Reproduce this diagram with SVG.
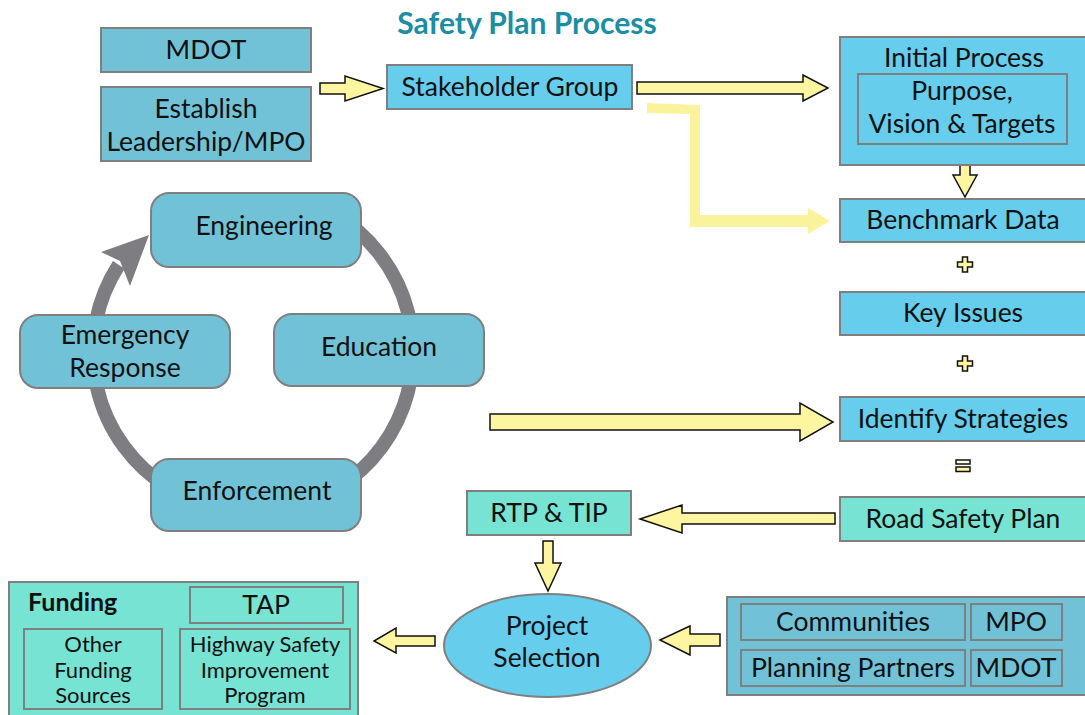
<svg xmlns="http://www.w3.org/2000/svg" width="1085" height="715" viewBox="0 0 1085 715">
  <style>
    text { font-family: Lato, "Open Sans", "Liberation Sans", sans-serif; fill: #111; text-anchor: middle; }
    .lbl { font-size: 26.5px; }
    .sm { font-size: 22px; }
    .title { font-size: 30px; font-weight: bold; fill: #1b8ea3; }
    .dark { fill: #72c2d7; stroke: #7f7f7f; stroke-width: 2; }
    .sky { fill: #66cdec; stroke: #7f7f7f; stroke-width: 2; }
    .mint { fill: #77e3d3; stroke: #7f7f7f; stroke-width: 2; }
    .cyc { fill: #72c2d7; stroke: #7f7f7f; stroke-width: 2; }
    .arr { fill: #fdf59f; stroke: #111; stroke-width: 1.5; stroke-linejoin: miter; }
    .soft { fill: #fbf39c; }
    .ring { fill: none; stroke: #7d7d82; stroke-width: 14; }
  </style>

  <text class="title" x="527" y="34">Safety Plan Process</text>

  <!-- cycle ring behind the four E boxes -->
  <g id="cycle-ring">
    <path class="ring" d="M 118.8 264.9 A 160 160 0 1 0 333 213.4"/>
    <polygon fill="#7d7d82" points="149,235 101,252 120,261 130,286"/>
  </g>

  <!-- connectors -->
  <g id="connectors">
    <polygon class="arr" points="320,83 345,83 345,76 383,88.5 345,101 345,94 320,94"/>
    <polygon class="arr" points="637,82 803,82 803,75 828,88 803,101 803,94 637,94"/>
    <polygon class="soft" points="647,103 700,105 700,215 808,215 808,208 830,221 808,234 808,227 690,227 690,114 647,113"/>
    <polygon class="arr" points="960,165 970,165 970,175 977,175 965,197 953,175 960,175"/>
    <polygon class="arr" points="490,414 800,414 800,403 833,422 800,441 800,430 490,430"/>
    <polygon class="arr" points="835,513 682,513 682,505 640,519 682,533 682,524 835,524"/>
    <polygon class="arr" points="543,541 553,541 553,563 561,563 548,591 535,563 543,563"/>
    <polygon class="arr" points="720,634 690,634 690,626 660,640 690,655 690,646 720,646"/>
    <polygon class="arr" points="435,636 396,636 396,628 374,641 396,653 396,646 435,646"/>
  </g>

  <!-- operators between the process steps -->
  <g id="operators">
    <path class="arr" d="M962.5,257 h5 v5 h5 v5 h-5 v5 h-5 v-5 h-5 v-5 h5 z"/>
    <path class="arr" d="M962.5,356 h5 v5 h5 v5 h-5 v5 h-5 v-5 h-5 v-5 h5 z"/>
    <rect class="arr" x="956" y="460" width="14" height="4" style="fill:#fffbe6"/>
    <rect class="arr" x="956" y="467" width="14" height="4.5"/>
  </g>

  <g id="mdot-top">
    <rect class="dark" x="101" y="28" width="210" height="44"/>
    <text class="lbl" x="206" y="59">MDOT</text>
  </g>

  <g id="leadership">
    <rect class="dark" x="101" y="87" width="210" height="74"/>
    <text class="lbl" x="206" y="118">Establish</text>
    <text class="lbl" x="206" y="151">Leadership/MPO</text>
  </g>

  <g id="stakeholder">
    <rect class="sky" x="387" y="65" width="245" height="44"/>
    <text class="lbl" x="510" y="96">Stakeholder Group</text>
  </g>

  <g id="initial-process">
    <rect class="sky" x="840" y="37" width="250" height="128"/>
    <text class="lbl" x="964" y="67">Initial Process</text>
    <rect class="sky" x="858" y="74" width="209" height="70"/>
    <text class="lbl" x="962" y="100">Purpose,</text>
    <text class="lbl" x="962" y="133">Vision &amp; Targets</text>
  </g>

  <g id="benchmark">
    <rect class="sky" x="840" y="199" width="250" height="43"/>
    <text class="lbl" x="963" y="229">Benchmark Data</text>
  </g>

  <g id="key-issues">
    <rect class="sky" x="840" y="292" width="250" height="43"/>
    <text class="lbl" x="963" y="322">Key Issues</text>
  </g>

  <g id="strategies">
    <rect class="sky" x="840" y="397" width="250" height="44"/>
    <text class="lbl" x="963" y="428">Identify Strategies</text>
  </g>

  <g id="road-safety-plan">
    <rect class="mint" x="840" y="497" width="250" height="44"/>
    <text class="lbl" x="963" y="528">Road Safety Plan</text>
  </g>

  <g id="rtp-tip">
    <rect class="mint" x="467" y="491" width="164" height="44"/>
    <text class="lbl" x="549" y="522">RTP &amp; TIP</text>
  </g>

  <g id="engineering">
    <rect class="cyc" x="151" y="193" width="210" height="74" rx="18"/>
    <text class="lbl" x="264" y="235">Engineering</text>
  </g>

  <g id="education">
    <rect class="cyc" x="274" y="314" width="210" height="72" rx="18"/>
    <text class="lbl" x="379" y="356">Education</text>
  </g>

  <g id="emergency">
    <rect class="cyc" x="20" y="315" width="210" height="73" rx="18"/>
    <text class="lbl" x="125" y="344">Emergency</text>
    <text class="lbl" x="125" y="377">Response</text>
  </g>

  <g id="enforcement">
    <rect class="cyc" x="151" y="459" width="210" height="72" rx="18"/>
    <text class="lbl" x="257" y="500">Enforcement</text>
  </g>

  <g id="project-selection">
    <ellipse class="sky" cx="547.5" cy="645.5" rx="103.5" ry="51.5"/>
    <text class="lbl" x="547" y="635">Project</text>
    <text class="lbl" x="547" y="667">Selection</text>
  </g>

  <g id="partners">
    <rect class="dark" x="727" y="597" width="363" height="98"/>
    <rect class="dark" x="741" y="604" width="224" height="36"/>
    <text class="lbl" x="853" y="631">Communities</text>
    <rect class="dark" x="971" y="604" width="91" height="36"/>
    <text class="lbl" x="1016" y="631">MPO</text>
    <rect class="dark" x="741" y="650" width="224" height="36"/>
    <text class="lbl" x="853" y="677">Planning Partners</text>
    <rect class="dark" x="971" y="650" width="91" height="36"/>
    <text class="lbl" x="1016" y="677">MDOT</text>
  </g>

  <g id="funding">
    <rect class="mint" x="9" y="582" width="349" height="140"/>
    <text x="28" y="611" style="font-size:25px;font-weight:bold;text-anchor:start">Funding</text>
    <rect class="mint" x="190" y="587" width="153" height="36"/>
    <text class="lbl" x="266" y="614">TAP</text>
    <rect class="mint" x="24" y="629" width="138" height="80"/>
    <text class="sm" x="93" y="652">Other</text>
    <text class="sm" x="93" y="678">Funding</text>
    <text class="sm" x="93" y="703">Sources</text>
    <rect class="mint" x="180" y="629" width="170" height="80"/>
    <text class="sm" x="265" y="652">Highway Safety</text>
    <text class="sm" x="265" y="678">Improvement</text>
    <text class="sm" x="265" y="703">Program</text>
  </g>
</svg>
